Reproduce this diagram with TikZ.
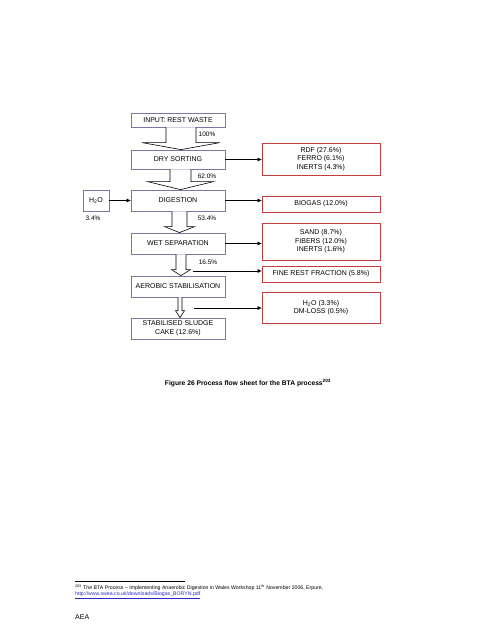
\documentclass[tikz,border=0pt]{standalone}
\usepackage{fontspec}
\setmainfont{Liberation Sans}
\usetikzlibrary{calc,arrows.meta}
\definecolor{boxblue}{RGB}{122,118,168}
\definecolor{boxred}{RGB}{196,60,60}
\definecolor{linkblue}{RGB}{40,40,200}
\tikzset{
  procbox/.style={draw=boxblue, line width=0.8pt, fill=white, minimum width=94pt, inner sep=1pt, align=center, font=\fontsize{7}{8.5}\selectfont},
  outbox/.style={draw=boxred, line width=0.8pt, fill=white, minimum width=118pt, inner sep=1pt, align=center, font=\fontsize{7}{8.5}\selectfont},
  pct/.style={font=\fontsize{6.5}{7}\selectfont, inner sep=0pt},
  fatline/.style={draw=black, line width=0.6pt, fill=white, line join=miter},
  thinarrow/.style={draw=black, line width=0.7pt, -{Triangle[length=4pt,width=3.5pt]}},
}
% #1 source node, #2 target node, #3 x centre, #4 shaft half width, #5 head half width, #6 head length
\newcommand{\fatarr}[6]{%
  \draw[fatline] let \p1=(#1.south), \p2=(#2.north) in
    (#3-#4,\y1) -- (#3-#4,\y2+#6) -- (#3-#5,\y2+#6) -- (#3,\y2) -- (#3+#5,\y2+#6) -- (#3+#4,\y2+#6) -- (#3+#4,\y1);
}
\begin{document}
\begin{tikzpicture}[x=1pt,y=-1pt]
\useasboundingbox (0,0) rectangle (495,640);
% left column
\node[procbox, minimum height=14pt] (in) at (178,120) {INPUT: REST WASTE};
\node[procbox, minimum height=19pt] (dry) at (178,159.5) {DRY SORTING};
\node[procbox, minimum height=21pt] (dig) at (178,200.5) {DIGESTION};
\node[procbox, minimum height=21pt] (wet) at (178,243.5) {WET SEPARATION};
\node[procbox, minimum height=21pt] (aer) at (178,286.5) {AEROBIC STABILISATION};
\node[procbox, minimum height=21pt] (cake) at (178,328.5) {STABILISED SLUDGE\\CAKE (12.6\%)};
\node[procbox, minimum width=26pt, minimum height=21pt] (water) at (96,200.5) {H\textsubscript{2}O};
% right column
\node[outbox, minimum height=32pt] (rdf) at (321,159) {RDF (27.6\%)\\FERRO (6.1\%)\\INERTS (4.3\%)};
\node[outbox, minimum height=16pt] (bio) at (321,204) {BIOGAS (12.0\%)};
\node[outbox, minimum height=37pt] (sand) at (321,241.5) {SAND (8.7\%)\\FIBERS (12.0\%)\\INERTS (1.6\%)};
\node[outbox, minimum height=16pt] (fine) at (321,274) {FINE REST FRACTION (5.8\%)};
\node[outbox, minimum height=31pt] (loss) at (321,307.5) {H\textsubscript{2}O (3.3\%)\\DM-LOSS (0.5\%)};
% fat arrows
\fatarr{in}{dry}{181}{15}{39}{7}
\fatarr{dry}{dig}{180.5}{10.5}{33}{8}
\fatarr{dig}{wet}{179.5}{7.5}{15}{6}
\fatarr{wet}{aer}{181}{5}{9.5}{6}
\fatarr{aer}{cake}{180}{2}{4.5}{7}
% percentages
\node[pct] (p100) at (207,134) {100\%};
\node[pct] (p62) at (207,176) {62.0\%};
\node[pct] (p53) at (207,218) {53.4\%};
\node[pct] (p16) at (208,262) {16.5\%};
\node[pct] (p3) at (93,218.5) {3.4\%};
% side arrows
\draw[thinarrow] (water.east) -- (water.east -| dig.west);
\draw[thinarrow] (dry.east) -- (dry.east -| rdf.west);
\draw[thinarrow] (dig.east) -- (dig.east -| bio.west);
\draw[thinarrow] (wet.east) -- (wet.east -| sand.west);
\coordinate (f0) at (193,271);
\coordinate (l0) at (194,308);
\draw[thinarrow] (f0) -- (f0 -| fine.west);
\draw[thinarrow] (l0) -- (l0 -| loss.west);
% caption
\node[font=\fontsize{6.7}{8}\selectfont\bfseries, inner sep=0pt] (cap) at (248,383) {Figure 26 Process flow sheet for the BTA process\textsuperscript{203}};
% footnote
\coordinate (r0) at (75,581);
\coordinate (r1) at (185,581);
\draw[line width=0.6pt] (r0) -- (r1);
\node[anchor=west, font=\fontsize{5.2}{6}\selectfont, inner sep=0pt] (fn) at (75,588) {\textsuperscript{203} The BTA Process – Implementing Anaerobic Digestion in Wales Workshop 11\textsuperscript{th} November 2006, Erpure,};
\node[anchor=west, font=\fontsize{5.2}{6}\selectfont, inner sep=0pt, text=linkblue] (url) at (75,595) {\underline{http://www.swea.co.uk/downloads/Biogas\_BORYN.pdf}};
\node[anchor=west, font=\fontsize{7}{8}\selectfont, inner sep=0pt] (aea) at (75,617) {AEA};
\end{tikzpicture}
\end{document}
